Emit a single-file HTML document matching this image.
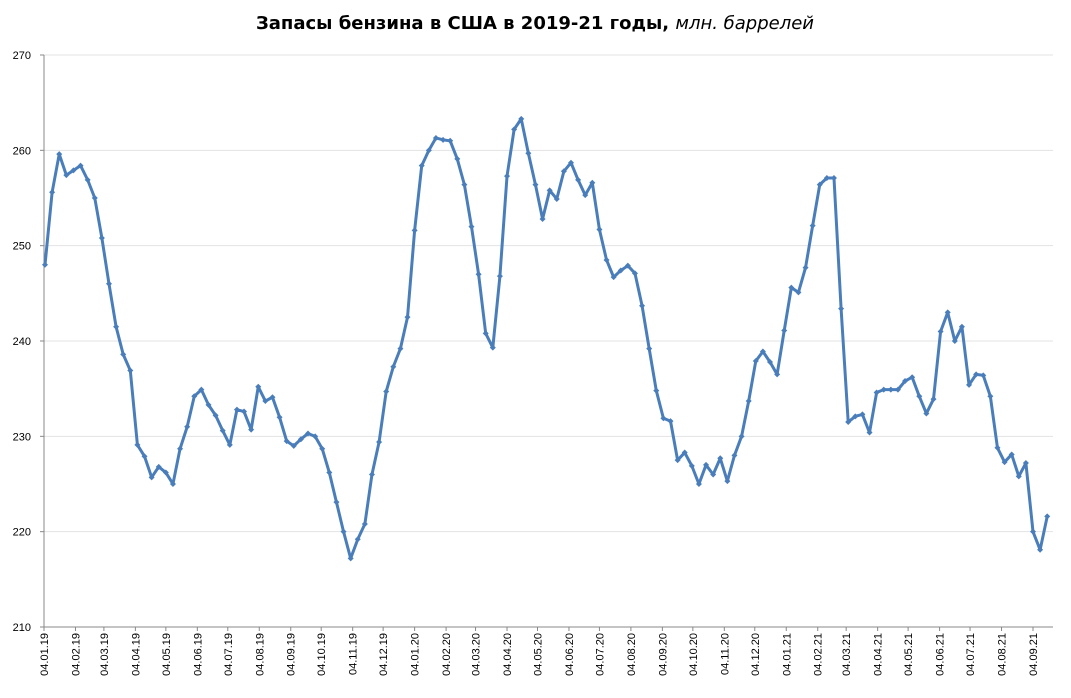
<!DOCTYPE html>
<html><head><meta charset="utf-8">
<style>
body{margin:0;background:#fff;}
svg text{font-family:"Liberation Sans",sans-serif;}
</style></head>
<body>
<svg id="chart" width="1071" height="693" xmlns="http://www.w3.org/2000/svg">
<text x="535" y="29" text-anchor="middle" font-size="18" font-weight="bold" fill="#000" style="font-family:'DejaVu Sans','Liberation Sans',sans-serif">Запасы бензина в США в 2019-21 годы, <tspan font-weight="normal" font-style="italic">млн. баррелей</tspan></text>
<g id="grid"></g><g id="axes"></g><g id="series"></g>
</svg>
<script>
const values = [248.0,255.6,259.6,257.4,257.9,258.4,256.9,255.0,250.8,246.0,241.5,238.6,236.9,229.1,227.9,225.7,226.8,226.2,225.0,228.7,231.0,234.2,234.9,233.3,232.2,230.6,229.1,232.8,232.6,230.7,235.2,233.7,234.1,232.0,229.5,229.0,229.7,230.3,230.0,228.7,226.2,223.1,220.0,217.2,219.2,220.8,226.0,229.4,234.7,237.3,239.2,242.5,251.6,258.4,260.0,261.3,261.1,261.0,259.1,256.4,252.0,247.0,240.8,239.3,246.8,257.3,262.2,263.3,259.7,256.4,252.8,255.8,254.9,257.8,258.7,256.9,255.3,256.6,251.7,248.5,246.7,247.4,247.9,247.1,243.7,239.2,234.8,231.9,231.6,227.5,228.3,226.9,225.0,227.0,226.0,227.7,225.3,228.0,230.0,233.7,237.9,238.9,237.8,236.5,241.1,245.6,245.1,247.7,252.1,256.4,257.1,257.1,243.4,231.5,232.1,232.3,230.4,234.6,234.9,234.9,234.9,235.8,236.2,234.2,232.4,233.9,241.0,243.0,240.0,241.5,235.4,236.5,236.4,234.2,228.8,227.3,228.1,225.8,227.2,220.0,218.1,221.6];
const yTicks = [210,220,230,240,250,260,270];
const xTickLabels = ["04.01.19","04.02.19","04.03.19","04.04.19","04.05.19","04.06.19","04.07.19","04.08.19","04.09.19","04.10.19","04.11.19","04.12.19","04.01.20","04.02.20","04.03.20","04.04.20","04.05.20","04.06.20","04.07.20","04.08.20","04.09.20","04.10.20","04.11.20","04.12.20","04.01.21","04.02.21","04.03.21","04.04.21","04.05.21","04.06.21","04.07.21","04.08.21","04.09.21"];
const startDate = Date.UTC(2019,0,4);
const firstPointDay = 1, weekDays = 7;
const NS="http://www.w3.org/2000/svg";
const plotLeft=44,plotRight=1053,plotTop=55,plotBottom=627,pxPerDay=1.0154;
function yS(v){return plotBottom-(v-210)/(270-210)*(plotBottom-plotTop);}
function xDay(d){return plotLeft+d*pxPerDay;}
function parseD(s){const p=s.split('.').map(Number);return (Date.UTC(2000+p[2],p[1]-1,p[0])-startDate)/86400000;}
function mk(tag,attrs,par){const e=document.createElementNS(NS,tag);for(const k in attrs)e.setAttribute(k,attrs[k]);par.appendChild(e);return e;}
const gridG=document.getElementById('grid'),axesG=document.getElementById('axes'),seriesG=document.getElementById('series');
yTicks.forEach(t=>{
  const y=yS(t);
  if(t>210){const g=mk('line',{x1:plotLeft,x2:plotRight,y1:y,y2:y,stroke:'#e3e3e3','stroke-width':1},gridG);
  
  }
  mk('line',{x1:plotLeft-4,x2:plotLeft,y1:y,y2:y,stroke:'#888'},axesG);
  const tx=mk('text',{x:31,y:y+4,'text-anchor':'end','font-size':11,fill:'#000'},axesG);
  tx.textContent=t;
  
  
});
const ya=mk('line',{x1:plotLeft,x2:plotLeft,y1:plotTop,y2:plotBottom,stroke:'#888'},axesG);


const xa=mk('line',{x1:plotLeft,x2:plotRight,y1:plotBottom,y2:plotBottom,stroke:'#888'},axesG);


xTickLabels.forEach(s=>{
  const x=xDay(parseD(s));
  mk('line',{x1:x,x2:x,y1:plotBottom,y2:plotBottom+4,stroke:'#888'},axesG);
  const tx=mk('text',{transform:`translate(${x+4},${plotBottom+6}) rotate(-90)`,'text-anchor':'end','font-size':11,fill:'#000'},axesG);
  tx.textContent=s;
  
  
});
const pts=values.map((v,i)=>[xDay(firstPointDay+i*weekDays),yS(v)]);
const line=mk('polyline',{points:pts.map(p=>p.join(',')).join(' '),fill:'none',stroke:'#4a7ebb','stroke-width':3,'stroke-linejoin':'round'},seriesG);


pts.forEach(p=>{
  const m=mk('path',{d:`M${p[0]-3},${p[1]}L${p[0]},${p[1]-3}L${p[0]+3},${p[1]}L${p[0]},${p[1]+3}Z`,fill:'#4a7ebb'},seriesG);
  
  
});
</script>
</body></html>
